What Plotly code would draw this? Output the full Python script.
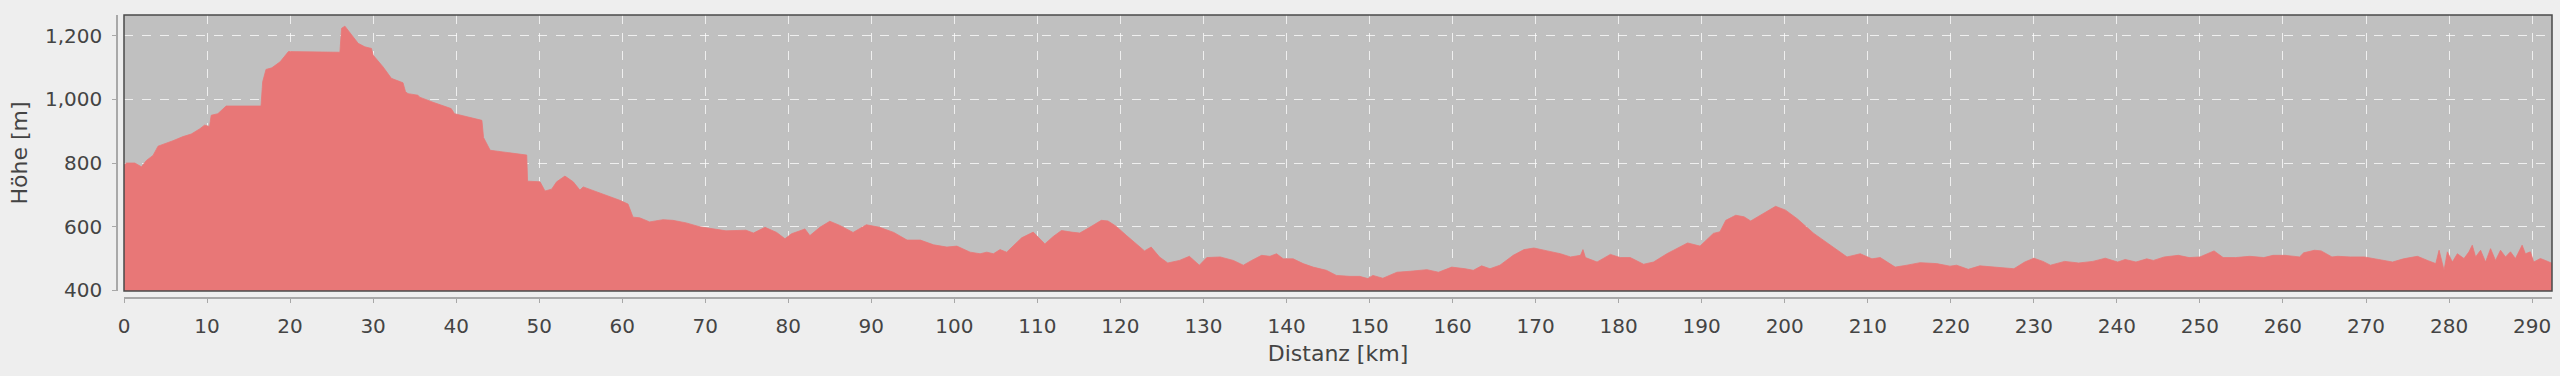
import plotly.graph_objects as go

distanz_km = [
    0, 0.3, 1.3, 2.1, 2.7, 3.5, 4.1, 5.1, 5.9, 7.1, 8.1, 9.1, 9.7, 10.3, 10.5, 11.3, 12.3,
    16.5, 16.7, 17.1, 17.8, 18.8, 19.8, 26.0, 26.2, 26.6, 27.4, 28.2, 29.0, 29.8, 30.0,
    31.2, 32.2, 33.6, 33.9, 34.2, 35.4, 35.6, 37.2, 38.4, 39.4, 39.8, 43.1, 43.3, 44.1,
    48.5, 48.6, 50.1, 50.7, 51.5, 52.1, 53.1, 54.1, 54.9, 55.3, 59.7, 60.7, 61.3, 62.1,
    63.3, 64.9, 66.1, 67.7, 69.3, 70.9, 72.5, 74.9, 75.8, 77.2, 78.6, 79.6, 80.4, 81.4,
    82.0, 82.6, 83.8, 85.0, 86.2, 87.8, 89.4, 91.0, 92.7, 94.3, 95.9, 97.5, 99.1, 100.3,
    101.9, 103.1, 103.9, 104.7, 105.5, 106.3, 107.1, 108.1, 109.5, 110.9, 111.9, 112.9,
    114.1, 115.1, 116.3, 117.7, 118.5, 119.5, 120.7, 121.9, 122.9, 123.7, 124.7, 125.7,
    127.1, 128.3, 129.5, 130.4, 132.0, 133.6, 134.8, 135.8, 137.0, 138.0, 138.8, 139.6,
    140.8, 142.0, 143.2, 144.8, 146.0, 147.6, 148.8, 149.8, 150.4, 151.6, 153.3, 154.9,
    156.9, 158.3, 159.9, 161.5, 162.5, 163.5, 164.5, 165.7, 167.3, 168.6, 169.8, 171.4,
    173.0, 174.2, 175.4, 175.7, 176.0, 177.4, 179.0, 180.2, 181.4, 183.0, 184.2, 185.8,
    187.3, 188.3, 189.8, 191.4, 192.2, 192.9, 194.1, 195.1, 195.9, 197.1, 198.1, 198.9,
    200.1, 201.5, 203.5, 205.5, 207.5, 209.1, 210.5, 211.5, 213.3, 214.7, 216.3, 218.3,
    219.9, 220.7, 222.1, 223.5, 225.1, 227.6, 228.9, 230.0, 231.1, 232.0, 233.7, 235.4,
    237.1, 238.6, 240.1, 241.0, 242.3, 243.6, 244.4, 245.7, 247.4, 248.7, 250.0, 251.7,
    252.8, 254.3, 256.0, 257.7, 258.8, 260.3, 262.0, 262.5, 263.8, 264.6, 265.9, 266.6,
    268.1, 269.8, 271.5, 273.2, 274.5, 276.2, 277.5, 278.4, 278.8, 279.4, 279.8, 280.4,
    281.0, 281.8, 282.4, 282.8, 283.2, 283.8, 284.4, 285.0, 285.6, 286.2, 286.8, 287.4,
    288.0, 288.8, 289.2, 289.8, 290.2, 291.0, 291.6, 292.4,
]
hoehe_m = [
    793, 800, 800, 788, 808, 824, 853, 862, 870, 883, 891, 907, 919, 915, 950, 955, 979,
    979, 1055, 1094, 1099, 1118, 1150, 1148, 1223, 1230, 1202, 1176, 1165, 1160, 1139,
    1102, 1066, 1052, 1024, 1018, 1013, 1007, 991, 981, 971, 955, 934, 880, 840,
    825, 743, 741, 712, 718, 741, 759, 741, 715, 725, 683, 671, 630, 628,
    615, 622, 620, 612, 600, 593, 587, 589, 580, 598, 582, 562, 578, 587,
    593, 572, 598, 617, 604, 582, 606, 598, 582, 558, 558, 543, 536, 539,
    520, 515, 520, 515, 528, 520, 541, 565, 583, 546, 569, 588,
    583, 580, 598, 620, 618, 601, 573, 545, 524, 536, 505, 486,
    494, 507, 479, 503, 505, 494, 479, 494, 510, 507, 515, 499,
    499, 484, 473, 463, 447, 444, 444, 437, 447, 438, 457, 460,
    465, 457, 473, 468, 463, 477, 468, 479, 510, 528, 533, 524,
    515, 505, 510, 528, 503, 489, 513, 503, 503, 482, 489, 515,
    535, 549, 539, 579, 584, 620, 636, 631, 618, 636, 652, 664,
    652, 625, 579, 541, 505, 515, 499, 503, 473, 479, 487, 484,
    476, 479, 466, 477, 473, 468, 489, 501, 491, 479, 491, 486,
    491, 501, 489, 497, 489, 499, 494, 505, 510, 503, 505, 524,
    503, 503, 507, 503, 510, 510, 505, 518, 526, 524, 505, 507,
    505, 505, 497, 489, 499, 507, 493, 484, 526, 463, 521, 489,
    515, 500, 521, 542, 505, 526, 489, 531, 494, 526, 505, 521,
    500, 542, 515, 521, 489, 500, 494, 485,
]

x_ticks = list(range(0, 300, 10))
y_ticks = [400, 600, 800, 1000, 1200]

W, H = 2560, 376
ml, mr, mt, mb = 117, 8, 15, 78
gap = 7
plot_w = W - ml - mr
plot_h = H - mt - mb

fig = go.Figure()
fig.add_trace(go.Scatter(
    x=distanz_km, y=hoehe_m, mode="lines",
    line=dict(color="#E87777", width=0.8),
    fill="tozeroy", fillcolor="#E87777",
    hoverinfo="x+y", showlegend=False,
))

font_family = "DejaVu Sans"
fig.update_layout(
    width=W, height=H,
    margin=dict(l=ml, r=mr, t=mt, b=mb, pad=0),
    paper_bgcolor="#EEEEEE",
    plot_bgcolor="#C0C0C0",
    font=dict(family=font_family, color="#444444", size=20),
    xaxis=dict(
        domain=[gap / plot_w, 1], anchor="free", position=0,
        range=[0, 292.4], tickvals=x_ticks, ticktext=[str(v) for v in x_ticks],
        showline=True, linecolor="#A8A8A8", linewidth=1.5,
        ticks="outside", ticklen=4, tickcolor="#A8A8A8", tickwidth=1,
        ticklabelstandoff=6,
        showgrid=True, gridcolor="rgba(255,255,255,0.75)", griddash="dash", gridwidth=1,
        zeroline=False,
        tickfont=dict(size=20, color="#444444"),
        title=dict(text="Distanz [km]", font=dict(size=22, color="#444444"), standoff=8),
    ),
    yaxis=dict(
        domain=[gap / plot_h, 1], anchor="free", position=0,
        range=[398, 1265], tickvals=y_ticks, tickformat=",",
        showline=True, linecolor="#A8A8A8", linewidth=1.5,
        ticks="outside", ticklen=4, tickcolor="#A8A8A8", tickwidth=1,
        ticklabelstandoff=6,
        showgrid=True, gridcolor="rgba(255,255,255,0.75)", griddash="dash", gridwidth=1,
        zeroline=False,
        tickfont=dict(size=20, color="#444444"),
        title=dict(text="Höhe [m]", font=dict(size=22, color="#444444"), standoff=10),
    ),
)

# plot outline
fig.add_shape(type="rect", xref="x domain", yref="y domain", x0=0, x1=1, y0=0, y1=1,
              line=dict(color="#4A4A4A", width=1.5), layer="above")

fig.write_html("out.html")
